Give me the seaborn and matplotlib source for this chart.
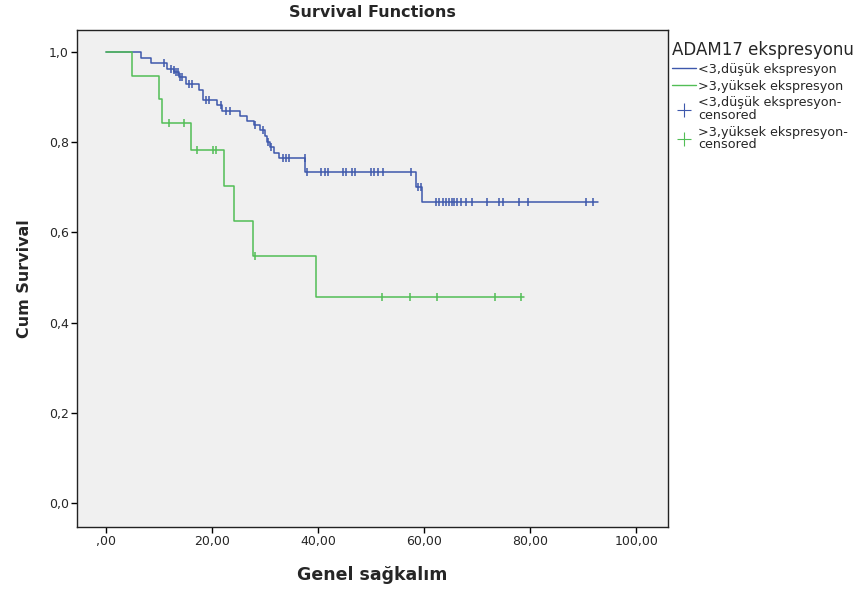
import matplotlib
matplotlib.use('Agg')
import matplotlib.pyplot as plt
import seaborn as sns
import pandas as pd
import numpy as np
from matplotlib.lines import Line2D

# Dados (Kaplan-Meier, ADAM17)
low_times = [0, 6.7, 8.5, 11.5, 12.8, 13.8, 15.2, 17.6, 18.3, 21.0, 22.0, 25.4, 26.7,
             27.9, 29.1, 30.0, 30.4, 31.0, 31.8, 32.6, 37.5, 58.5, 59.6, 92.8]
low_surv = [1.0, 0.987, 0.975, 0.963, 0.955, 0.945, 0.93, 0.915, 0.893, 0.882, 0.87, 0.858,
            0.848, 0.838, 0.827, 0.814, 0.801, 0.789, 0.777, 0.765, 0.733, 0.701, 0.667, 0.667]
low_cens_t = [10.9, 12.3, 12.8, 13.2, 13.6, 14.0, 14.3, 15.7, 16.2, 18.9, 19.5, 21.7, 22.6,
              23.5, 28.2, 29.6, 30.6, 31.2, 33.5, 33.9, 34.5, 37.5, 37.9, 40.6, 41.3, 41.9,
              44.8, 45.3, 46.4, 46.9, 50.0, 50.6, 51.3, 52.2, 57.6, 58.9, 59.4,
              62.2, 62.8, 63.5, 64.1, 64.7, 65.2, 65.7, 66.2, 66.9, 67.9, 69.1, 71.9,
              74.1, 74.9, 77.8, 79.5, 90.5, 91.9]
low_cens_s = [0.975, 0.963, 0.96, 0.955, 0.955, 0.945, 0.945, 0.93, 0.93, 0.893, 0.893, 0.882,
              0.87, 0.87, 0.838, 0.827, 0.801, 0.789, 0.765, 0.765, 0.765, 0.765, 0.733,
              0.733, 0.733, 0.733, 0.733, 0.733, 0.733, 0.733, 0.733, 0.733, 0.733, 0.733,
              0.733, 0.701, 0.701,
              0.667, 0.667, 0.667, 0.667, 0.667, 0.667, 0.667, 0.667, 0.667, 0.667, 0.667,
              0.667, 0.667, 0.667, 0.667, 0.667, 0.667, 0.667]

high_times = [0, 4.9, 10.0, 10.6, 16.0, 22.3, 24.2, 27.7, 39.6, 78.8]
high_surv = [1.0, 0.947, 0.895, 0.842, 0.782, 0.704, 0.625, 0.547, 0.456, 0.456]
high_cens_t = [11.9, 14.7, 17.2, 20.2, 20.7, 28.1, 52.0, 57.4, 62.4, 73.3, 78.3]
high_cens_s = [0.842, 0.842, 0.782, 0.782, 0.782, 0.547, 0.456, 0.456, 0.456, 0.456, 0.456]

x_ticks = [0, 20, 40, 60, 80, 100]
x_labels = [',00', '20,00', '40,00', '60,00', '80,00', '100,00']
y_ticks = [0.0, 0.2, 0.4, 0.6, 0.8, 1.0]
y_labels = ['0,0', '0,2', '0,4', '0,6', '0,8', '1,0']

labels = ['<3,düşük ekspresyon', '>3,yüksek ekspresyon',
          '<3,düşük ekspresyon-\ncensored', '>3,yüksek ekspresyon-\ncensored']

blue = '#3E58AC'
green = '#52BE56'

sns.set_theme(style='ticks')
plt.rcParams['font.family'] = ['DejaVu Sans']

fig = plt.figure(figsize=(8.61, 5.96), dpi=100)
ax = fig.add_axes([0.0895, 0.1158, 0.6865, 0.834])
ax.set_facecolor('#f0f0f0')

# Curvas
sns.lineplot(x=low_times, y=low_surv, drawstyle='steps-post', color=blue, lw=1.1,
             sort=False, ax=ax)
sns.lineplot(x=high_times, y=high_surv, drawstyle='steps-post', color=green, lw=1.1,
             sort=False, ax=ax)

# Censurados
sns.scatterplot(x=low_cens_t, y=low_cens_s, marker='|', s=40, color=blue, linewidth=1.1, ax=ax)
sns.scatterplot(x=high_cens_t, y=high_cens_s, marker='|', s=40, color=green, linewidth=1.1, ax=ax)

ax.set_xlim(-5.4, 106)
ax.set_ylim(-0.053, 1.049)
ax.set_xticks(x_ticks)
ax.set_xticklabels(x_labels, fontsize=9)
ax.set_yticks(y_ticks)
ax.set_yticklabels(y_labels, fontsize=9)
ax.tick_params(direction='out', length=4, width=1, color='black', pad=2)
for sp in ax.spines.values():
    sp.set_color('#222222')
    sp.set_linewidth(1)

ax.set_title('Survival Functions', fontsize=11.5, fontweight='bold', pad=9)
ax.set_xlabel('Genel sağkalım', fontsize=12.5, fontweight='bold', labelpad=13)
ax.set_ylabel('Cum Survival', fontsize=11.5, fontweight='bold', labelpad=12)

# Legenda
handles = [Line2D([], [], color=blue, lw=1, drawstyle='steps-post'),
           Line2D([], [], color=green, lw=1, drawstyle='steps-post'),
           Line2D([], [], color=blue, lw=0, marker='+', markersize=10, markeredgewidth=0.8),
           Line2D([], [], color=green, lw=0, marker='+', markersize=10, markeredgewidth=0.8)]
leg = fig.legend(handles, labels, title='ADAM17 ekspresyonu', loc='upper left',
                 bbox_to_anchor=(0.774, 0.94), frameon=False, fontsize=9.2,
                 title_fontsize=12, handlelength=1.9, handletextpad=0.2,
                 labelspacing=0.3, borderaxespad=0)
leg._legend_box.align = 'left'
for t in leg.get_texts():
    t.set_linespacing(0.95)

fig.savefig('out.png', dpi=100)
